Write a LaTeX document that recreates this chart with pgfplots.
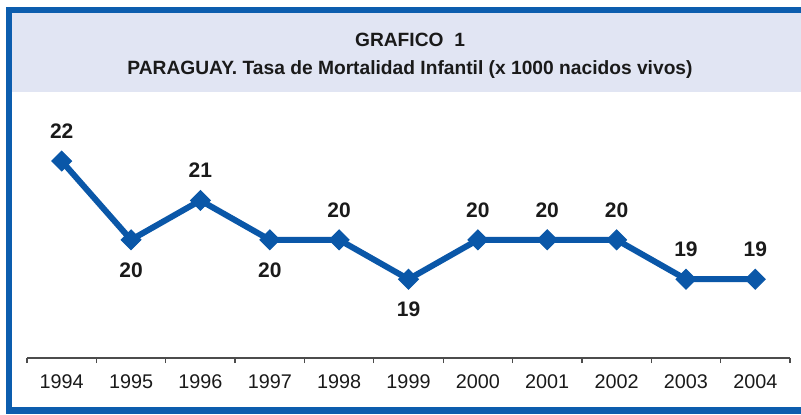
\documentclass[border=0pt]{standalone}
\usepackage{fontspec}
\setmainfont{Liberation Sans}
\usepackage{pgfplots}
\pgfplotsset{compat=1.18}

\definecolor{frameblue}{HTML}{0C5DAE}
\definecolor{lineblue}{HTML}{0A57A8}
\definecolor{band}{HTML}{E1E5F3}
\definecolor{txt}{HTML}{1A1A1A}

\pgfplotstableread{
x y pos
0 22 1
1 20 -1
2 21 1
3 20 -1
4 20 1
5 19 -1
6 20 1
7 20 1
8 20 1
9 19 1
10 19 1
}\mortality

\begin{document}
\begin{tikzpicture}
\path[use as bounding box, fill=white] (0pt,0pt) rectangle (400.5pt,207pt);
% frame and header band
\fill[frameblue] (3pt,0pt) rectangle (400.5pt,203.5pt);
\fill[white] (6pt,3.5pt) rectangle (400.5pt,200.7pt);
\fill[band] (6pt,161pt) rectangle (400.5pt,200.7pt);
\node[font=\fontsize{9.6}{11}\selectfont\bfseries, text=txt] at (205pt,187pt) {GRAFICO\ \ 1};
\node[font=\fontsize{9.6}{11}\selectfont\bfseries, text=txt] at (205pt,172pt) {PARAGUAY. Tasa de Mortalidad Infantil (x 1000 nacidos vivos)};

\begin{axis}[
  at={(13.5pt,28pt)}, anchor=south west,
  scale only axis, width=381.5pt, height=129pt,
  xmin=-0.5, xmax=10.5, ymin=17, ymax=23.55,
  axis y line=none, axis x line*=bottom,
  axis line style={color=black!70, line width=0.6pt},
  xtick={0,...,10},
  xticklabels={1994,1995,1996,1997,1998,1999,2000,2001,2002,2003,2004},
  major tick length=0pt,
  xticklabel style={font=\fontsize{9.9}{11}\selectfont, text=txt, yshift=-4.6pt},
  extra x ticks={-0.5,0.5,...,10.5},
  extra x tick labels={},
  extra x tick style={major tick length=2.6pt, tick align=outside,
    tick style={color=black!70, line width=0.6pt}},
  clip=false,
  /pgf/number format/assume math mode=true,
  nodes near coords={\pgfmathprintnumber[fixed,precision=0]{\pgfplotspointmeta}},
  visualization depends on={\thisrow{pos} \as \labpos},
  every node near coord/.style={anchor=center, yshift=\labpos*15pt,
    font=\fontsize{10.5}{12}\selectfont\bfseries, text=txt},
]
\addplot[color=lineblue, line width=3pt, mark=square*,
  mark options={rotate=45, line width=0.5pt}, mark size=3.5pt]
  table[x=x, y=y] {\mortality};
\end{axis}
\end{tikzpicture}
\end{document}
